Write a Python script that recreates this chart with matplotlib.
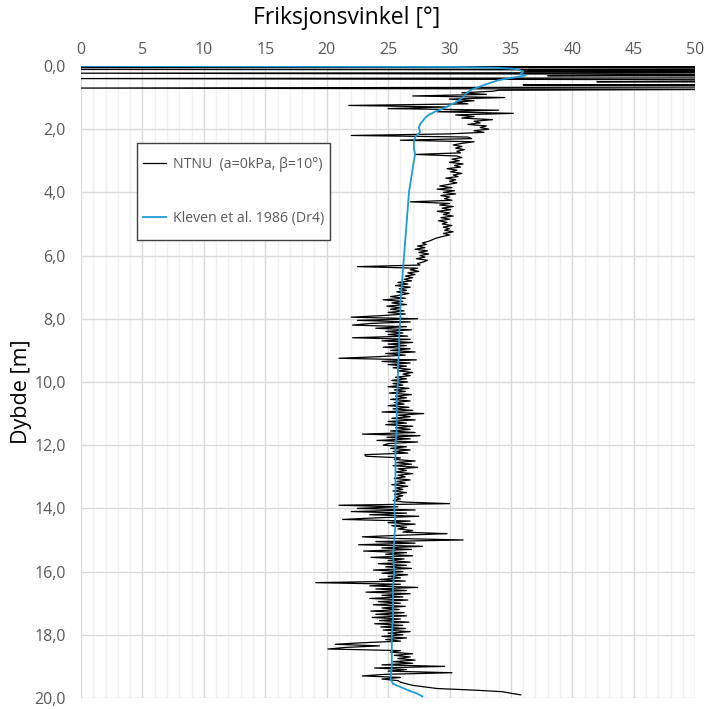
import numpy as np
import matplotlib.pyplot as plt
from matplotlib.patches import Rectangle
from matplotlib.ticker import MultipleLocator, FuncFormatter

# NTNU curve, top part (0 - 0.8 m), values beyond 50 are clipped by the axes
depth_top = [0.00, 0.01, 0.03, 0.05, 0.08, 0.11, 0.14, 0.17, 0.20, 0.23, 0.27,
             0.31, 0.35, 0.40, 0.45, 0.50, 0.55, 0.60, 0.65, 0.70, 0.74, 0.77]
ntnu_top = [0.0, 120, 0.0, 40.0, 150, 0.0, 90, 36, 80, 0.0, 60,
            38, 120, 0.0, 70, 42, 100, 36, 80, 0.0, 55, 34]

# NTNU curve from 0.80 m to 19.90 m, one value per 0.05 m (one row = 1 m)
NTNU_START = 0.80
NTNU_STEP = 0.05
ntnu_main = [
    33.5, 31.0, 33.0, 27.0, 34.5, 30.0, 32.0, 30.5, 31.5, 21.8, 29.8, 25.0, 34.0, 29.0, 35.2, 30.5, 32.0, 31.0, 33.5, 32.0,
    32.5, 31.5, 33.0, 32.5, 33.2, 32.0, 32.8, 30.0, 22.0, 31.5, 31.8, 26.0, 32.0, 31.0, 30.3, 31.0, 30.5, 31.2, 30.6, 30.9,
    27.2, 30.6, 31.0, 30.2, 30.8, 30.0, 31.1, 30.4, 30.9, 29.8, 30.6, 30.1, 31.0, 30.3, 30.7, 29.7, 30.5, 30.0, 30.6, 29.9,
    29.2, 30.2, 29.0, 30.4, 29.5, 30.5, 29.3, 30.0, 29.6, 30.2, 26.8, 30.0, 29.2, 30.3, 29.4, 30.1, 29.0, 30.0, 29.5, 30.3,
    29.3, 30.0, 29.1, 29.8, 29.4, 30.2, 29.5, 30.0, 29.6, 30.3, 29.5, 30.0, 29.4, 28.9, 28.6, 28.3, 27.8, 28.1, 27.4, 28.0,
    27.2, 28.2, 27.5, 28.3, 27.6, 28.0, 27.3, 28.2, 27.9, 27.4, 27.6, 22.5, 27.4, 26.8, 27.5, 26.6, 27.2, 26.4, 27.0, 26.3,
    26.9, 25.8, 26.6, 25.6, 26.8, 25.9, 26.5, 25.7, 26.7, 26.0, 25.2, 26.4, 24.6, 26.2, 25.3, 26.5, 24.9, 26.0, 25.2, 26.3,
    25.0, 26.4, 24.5, 22.0, 27.4, 22.5, 26.8, 23.5, 22.1, 26.5, 24.0, 26.9, 24.8, 26.2, 25.0, 26.6, 22.1, 26.8, 24.5, 27.0,
    25.0, 26.5, 24.6, 26.8, 25.2, 27.2, 24.8, 26.4, 24.2, 21.0, 27.3, 24.5, 26.8, 25.0, 26.5, 25.4, 26.8, 25.8, 27.0, 26.2,
    26.8, 25.6, 26.5, 25.3, 26.6, 25.4, 26.2, 25.0, 26.7, 25.5, 26.4, 25.1, 26.9, 25.6, 26.5, 25.2, 26.8, 25.5, 26.3, 25.0,
    26.7, 25.4, 27.0, 24.5, 27.9, 25.8, 26.8, 25.3, 27.2, 25.0, 26.5, 24.8, 27.0, 25.6, 26.8, 25.2, 27.2, 22.9, 27.6, 24.9,
    26.8, 24.1, 27.4, 25.0, 24.6, 26.5, 25.2, 26.8, 25.4, 26.6, 23.1, 23.2, 26.0, 25.5, 27.2, 25.6, 26.9, 25.4, 27.4, 25.8,
    26.5, 25.6, 27.0, 25.8, 26.4, 25.5, 26.8, 25.7, 26.4, 25.3, 26.6, 25.6, 26.2, 25.4, 26.5, 25.5, 26.2, 25.6, 26.0, 25.4,
    26.3, 30.0, 21.0, 25.8, 22.5, 27.2, 22.0, 26.5, 23.5, 27.5, 24.0, 21.3, 26.8, 25.0, 27.2, 25.3, 26.5, 25.8, 27.0, 26.2,
    29.8, 26.0, 22.9, 25.5, 31.1, 24.0, 27.2, 22.6, 27.8, 24.5, 26.9, 23.0, 26.5, 24.8, 27.0, 23.6, 26.3, 25.0, 26.8, 24.2,
    26.5, 24.8, 26.9, 23.8, 26.2, 24.5, 26.6, 25.0, 26.0, 24.3, 26.4, 19.1, 26.0, 23.5, 27.4, 24.0, 26.5, 23.2, 26.8, 24.5,
    26.2, 23.5, 26.6, 24.2, 26.0, 23.8, 26.4, 24.5, 25.9, 23.6, 26.3, 24.0, 26.5, 23.7, 26.0, 24.3, 26.7, 23.9, 26.2, 24.4,
    26.4, 24.6, 26.8, 25.0, 26.2, 24.5, 26.5, 24.8, 26.0, 23.0, 20.7, 24.3, 21.5, 20.1, 26.0, 25.2, 27.0, 25.5, 26.8, 25.8,
    27.2, 25.4, 27.0, 24.5, 29.6, 23.9, 26.5, 25.0, 30.2, 24.8, 22.9, 26.0, 24.5, 25.8, 26.0, 26.5, 27.0, 28.0, 29.0, 32.0,
    34.3, 35.0, 35.8,
]

# Kleven et al. 1986 (Dr4)
depth_kleven = [0.00, 0.03, 0.06, 0.10, 0.18, 0.25, 0.30, 0.38, 0.45, 0.55, 0.65, 0.75,
                0.85, 0.95, 1.05, 1.15, 1.25, 1.35, 1.45, 1.55, 1.65, 1.75, 1.85, 1.95,
                2.10, 2.25, 2.40, 2.60, 2.80, 3.00, 3.50, 4.00, 4.50, 5.00, 5.50, 6.00,
                6.50, 7.00, 7.50, 8.00, 8.50, 9.00, 9.50, 10.00, 10.50, 11.00, 11.50,
                12.00, 12.50, 13.00, 13.50, 14.00, 14.50, 15.00, 15.50, 16.00, 16.50,
                17.00, 17.50, 18.00, 18.50, 19.00, 19.40, 19.55, 19.65, 19.75, 19.85, 19.95]
kleven = [0.0, 30.5, 34.0, 35.5, 36.0, 35.8, 36.2, 35.0, 34.0, 33.2, 32.5, 31.8,
          31.4, 31.2, 30.9, 30.5, 30.0, 29.5, 28.8, 28.3, 28.0, 27.8, 27.6, 27.5,
          27.6, 27.2, 27.1, 27.1, 27.2, 27.1, 26.9, 26.7, 26.6, 26.5, 26.4, 26.3,
          26.2, 26.1, 26.0, 26.0, 25.9, 25.9, 25.8, 25.8, 25.7, 25.7, 25.7,
          25.6, 25.6, 25.6, 25.6, 25.5, 25.6, 25.5, 25.4, 25.5, 25.4,
          25.4, 25.4, 25.3, 25.3, 25.3, 25.2, 25.4, 26.0, 26.6, 27.3, 27.8]

x_ticks = [0, 5, 10, 15, 20, 25, 30, 35, 40, 45, 50]
y_ticks = [0, 2, 4, 6, 8, 10, 12, 14, 16, 18, 20]

plt.rcParams['font.family'] = ['Open Sans', 'DejaVu Sans']

depth_main = NTNU_START + NTNU_STEP * np.arange(len(ntnu_main))
depth_ntnu = np.concatenate([depth_top, depth_main])
ntnu = np.concatenate([ntnu_top, ntnu_main])

fig = plt.figure(figsize=(7.05, 7.09), dpi=100)
ax = fig.add_axes([0.115, 0.0155, 0.871, 0.8915])

ax.plot(ntnu, depth_ntnu, color='black', lw=0.9, label='NTNU  (a=0kPa, β=10°)', zorder=3)
ax.plot(kleven, depth_kleven, color='#1c9bd6', lw=1.3, label='Kleven et al. 1986 (Dr4)', zorder=4)

ax.set_xlim(0, 50)
ax.set_ylim(20, 0)
ax.xaxis.tick_top()
ax.xaxis.set_label_position('top')
ax.set_xticks(x_ticks)
ax.set_yticks(y_ticks)
ax.xaxis.set_minor_locator(MultipleLocator(1))
ax.yaxis.set_major_formatter(FuncFormatter(lambda v, p: f"{v:.1f}".replace('.', ',')))
ax.tick_params(which='both', length=0, labelsize=11.5, labelcolor='#595959')
ax.tick_params(axis='x', pad=6)
ax.tick_params(axis='y', pad=11)

ax.grid(which='major', color='#d9d9d9', lw=1.0)
ax.grid(which='minor', axis='x', color='#f0f0f0', lw=1.0)
ax.set_axisbelow(True)
for s in ax.spines.values():
    s.set_visible(False)

ax.set_xlabel('Friksjonsvinkel [°]', fontsize=16.5, va='center')
ax.xaxis.set_label_coords(0.432, 1.076)
ax.set_ylabel('Dybde [m]', fontsize=15.5, va='center')
ax.yaxis.set_label_coords(-0.097, 0.484)

# legend box
box = Rectangle((0.0912, 0.7247), 0.3143, 0.1535, transform=ax.transAxes,
                facecolor='white', edgecolor='#404040', lw=1.0, zorder=5)
ax.add_patch(box)
leg = ax.legend(loc='center', bbox_to_anchor=(0.2484, 0.8015), fontsize=10.2,
                labelspacing=2.7, handlelength=1.6, handletextpad=0.5,
                borderpad=0, borderaxespad=0, frameon=False)
leg.set_zorder(6)
for t in leg.get_texts():
    t.set_color('#595959')

fig.savefig('out.png', dpi=100)
